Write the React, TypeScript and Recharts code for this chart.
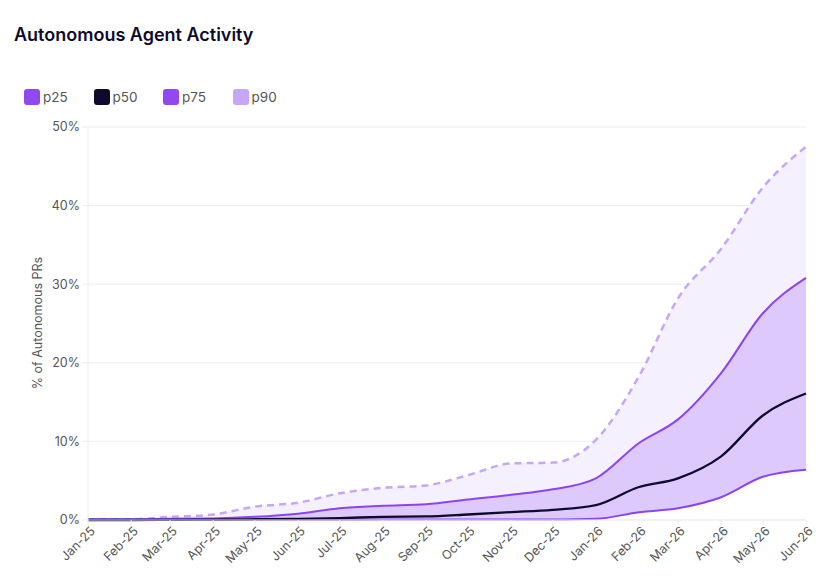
import React from 'react';
import { ComposedChart, Area, Line, XAxis, YAxis, CartesianGrid } from 'recharts';

const months = ['Jan-25','Feb-25','Mar-25','Apr-25','May-25','Jun-25','Jul-25','Aug-25','Sep-25','Oct-25','Nov-25','Dec-25','Jan-26','Feb-26','Mar-26','Apr-26','May-26','Jun-26'];
const p25 = [0, 0, 0, 0.02, 0.03, 0.03, 0.04, 0.05, 0.05, 0.05, 0.05, 0.06, 0.15, 1.0, 1.5, 2.9, 5.5, 6.4];
const p50 = [0, 0, 0.02, 0.05, 0.1, 0.15, 0.25, 0.4, 0.45, 0.7, 1.0, 1.3, 1.9, 4.2, 5.3, 8.1, 13.3, 16.1];
const p75 = [0.1, 0.1, 0.15, 0.2, 0.4, 0.8, 1.5, 1.8, 2.0, 2.6, 3.2, 3.9, 5.3, 9.8, 12.8, 18.7, 26.3, 30.8];
const p90 = [0.1, 0.1, 0.4, 0.7, 1.7, 2.2, 3.4, 4.1, 4.4, 5.7, 7.2, 7.3, 10.2, 18.3, 28.2, 34.5, 42.3, 47.5];
const yTicks = [0, 10, 20, 30, 40, 50];

const monthTs = (label: string) => {
  const names = ['Jan','Feb','Mar','Apr','May','Jun','Jul','Aug','Sep','Oct','Nov','Dec'];
  const [m, y] = label.split('-');
  return Date.UTC(2000 + Number(y), names.indexOf(m), 1);
};

const data = months.map((m, i) => ({
  t: monthTs(m),
  label: m,
  p25: p25[i],
  p50: p50[i],
  p75: p75[i],
  p90: p90[i],
  band1: [p25[i], p75[i]],
  band2: [p75[i], p90[i]],
}));

const xTicks = months.map(monthTs);
const labelOf = (t: number) => months[xTicks.indexOf(t)] ?? '';

const FONT = 'Inter, "Noto Sans", sans-serif';
const PURPLE = '#8C44F0';
const DARK = '#0E0A2E';
const LIGHT = '#C7A6F8';

const XTick = (props: any) => {
  const { x, y, payload } = props;
  return (
    <g transform={`translate(${x + 5},${y + 1})`}>
      <text x={0} y={0} dy={4} textAnchor="end" transform="rotate(-45)" fontSize={12.5} fill="#555" fontFamily={FONT}>
        {labelOf(payload.value)}
      </text>
    </g>
  );
};

const legendItems = [
  { name: 'p25', color: '#9148F1' },
  { name: 'p50', color: DARK },
  { name: 'p75', color: '#9148F1' },
  { name: 'p90', color: LIGHT },
];

export default function App() {
  return (
    <div style={{ position: 'absolute', left: 0, top: 0, width: 839, height: 581, background: '#fff', fontFamily: FONT }}>
      <div style={{ position: 'absolute', left: 14, top: 24, fontSize: 18, fontWeight: 600, color: DARK, letterSpacing: 0 }}>
        Autonomous Agent Activity
      </div>
      <div style={{ position: 'absolute', left: 24, top: 89, display: 'flex' }}>
        {legendItems.map((it) => (
          <div key={it.name} style={{ display: 'flex', alignItems: 'center', width: 69.5 }}>
            <div style={{ width: 16, height: 16, borderRadius: 3, background: it.color }} />
            <span style={{ marginLeft: 3, fontSize: 13.5, color: '#555', lineHeight: '16px' }}>{it.name}</span>
          </div>
        ))}
      </div>
      <div style={{ position: 'absolute', left: 37, top: 323, width: 0, height: 0 }}>
        <div style={{ position: 'absolute', transform: 'translate(-50%, -50%) rotate(-90deg)', whiteSpace: 'nowrap', fontSize: 12.5, color: '#555' }}>
          % of Autonomous PRs
        </div>
      </div>
      <ComposedChart width={839} height={581} data={data} margin={{ top: 127, right: 33, bottom: 6, left: 0 }}>
        <CartesianGrid vertical={false} stroke="#EDEDED" />
        <XAxis
          dataKey="t"
          type="number"
          domain={[xTicks[0], xTicks[xTicks.length - 1]]}
          ticks={xTicks}
          interval={0}
          height={55}
          tick={<XTick />}
          axisLine={{ stroke: '#EDEDED' }}
          tickLine={{ stroke: '#EDEDED' }}
          tickSize={6}
        />
        <YAxis
          width={88}
          domain={[0, 50]}
          ticks={yTicks}
          interval={0}
          tickFormatter={(v: number) => `${v}%`}
          tick={{ fontSize: 12.5, fill: '#555', fontFamily: FONT }}
          axisLine={{ stroke: '#EDEDED' }}
          tickLine={{ stroke: '#EDEDED' }}
          tickSize={6}
        />
        <Area type="monotone" dataKey="band2" stroke="none" fill="#F5F0FE" fillOpacity={1} isAnimationActive={false} />
        <Area type="monotone" dataKey="band1" stroke="none" fill="#DDC9FC" fillOpacity={1} isAnimationActive={false} />
        <Line type="monotone" dataKey="p90" stroke={LIGHT} strokeWidth={2.5} strokeDasharray="7 5" dot={false} isAnimationActive={false} />
        <Line type="monotone" dataKey="p25" stroke={PURPLE} strokeWidth={2} dot={false} isAnimationActive={false} />
        <Line type="monotone" dataKey="p75" stroke={PURPLE} strokeWidth={2} dot={false} isAnimationActive={false} />
        <Line type="monotone" dataKey="p50" stroke={DARK} strokeWidth={2.3} dot={false} isAnimationActive={false} />
      </ComposedChart>
    </div>
  );
}
